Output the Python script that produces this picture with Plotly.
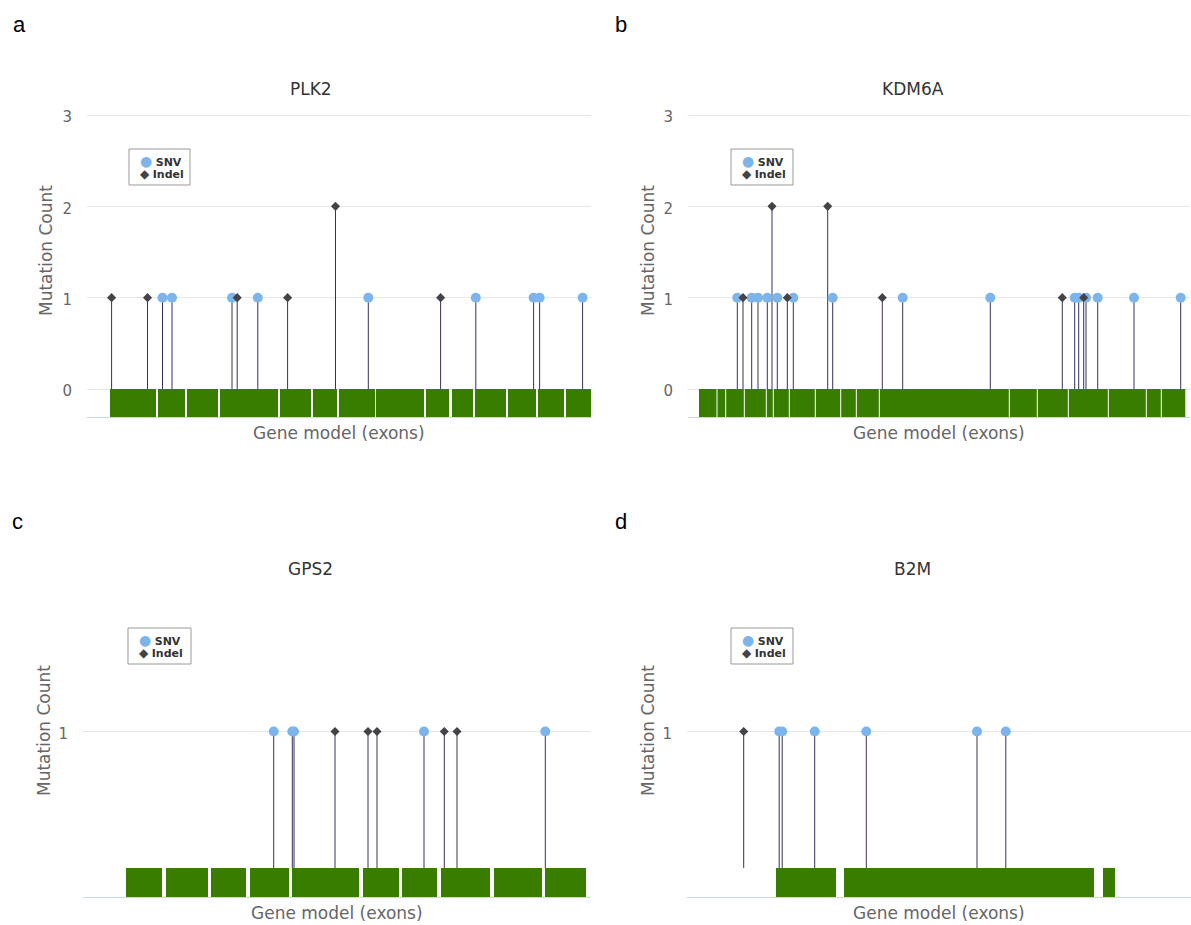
import plotly.graph_objects as go

# Gene-model coordinates: 0 is the left end of each gene's axis.
genes = ["PLK2", "KDM6A", "GPS2", "B2M"]
panel_letters = ["a", "b", "c", "d"]

plk2_exon_start = [23, 71, 100, 133, 193, 226, 252, 289, 339, 365, 388, 421, 451, 479]
plk2_exon_end = [69, 98, 131, 191, 224, 250, 288, 337, 362, 386, 419, 449, 477, 504]
plk2_snv_pos = [75.5, 85, 145, 170.8, 281.3, 388.8, 446.6, 452.6, 495.6]
plk2_snv_count = [1, 1, 1, 1, 1, 1, 1, 1, 1]
plk2_indel_pos = [24.6, 60.5, 150.2, 200.6, 248.5, 353.6]
plk2_indel_count = [1, 1, 1, 1, 2, 1]

kdm6a_exon_start = [11, 29.5, 38.2, 56.8, 78.8, 85.8, 101.8, 127.8, 153.2, 168.8,
                    191.8, 321.8, 349.8, 380.8, 420.8, 458.8, 473.8]
kdm6a_exon_end = [28.5, 37.2, 55.8, 77.8, 84.8, 100.8, 126.8, 152.2, 167.8, 190.8,
                  320.8, 348.8, 379.8, 419.8, 457.8, 472.8, 497.3]
kdm6a_snv_pos = [49.3, 63.7, 70, 79.3, 89.3, 105.3, 144.7, 214.7, 302.3, 386.7,
                 390.7, 398, 409.7, 446, 492.7]
kdm6a_snv_count = [1, 1, 1, 1, 1, 1, 1, 1, 1, 1, 1, 1, 1, 1, 1]
kdm6a_indel_pos = [55, 84, 99.3, 139.7, 194.3, 374.3, 395.7]
kdm6a_indel_count = [1, 2, 1, 2, 1, 1, 1]

gps2_exon_start = [43, 83, 128, 167, 209, 280, 319, 358, 411, 462]
gps2_exon_end = [79, 125, 163, 206, 276, 316, 354, 407, 459, 503]
gps2_snv_pos = [190.7, 209.3, 211, 341, 462.3]
gps2_snv_count = [1, 1, 1, 1, 1]
gps2_indel_pos = [252, 285, 294, 361.3, 374]
gps2_indel_count = [1, 1, 1, 1, 1]

b2m_exon_start = [89, 157, 416]
b2m_exon_end = [149, 407, 428]
b2m_snv_pos = [92.2, 95.2, 127.7, 179.3, 290, 318.8]
b2m_snv_count = [1, 1, 1, 1, 1, 1]
b2m_indel_pos = [56.7]
b2m_indel_count = [1]

top_y_ticks = [0, 1, 2, 3]
bottom_y_ticks = [1]

W, H = 1191, 925
SNV_COLOR = "#7cb5ec"
INDEL_COLOR = "#434348"
STEM_COLOR = "#34325a"
EXON_COLOR = "#387c00"
FONT = "DejaVu Sans"


def px_x(v):
    return v / W


def px_y(v):
    return 1 - v / H


panels = [
    dict(gene="PLK2", exon_start=plk2_exon_start, exon_end=plk2_exon_end,
         snv_pos=plk2_snv_pos, snv_count=plk2_snv_count,
         indel_pos=plk2_indel_pos, indel_count=plk2_indel_count,
         xpx=(87, 591), ypx=(112, 417), xmax=504, yrange=(-0.3066, 3.033), ticks=top_y_ticks,
         title_x=311, title_y=89, ytitle_x=46, ytitle_y=251, xtitle_y=433,
         legend=(129, 149, 190, 185), letter_xy=(11, 25)),
    dict(gene="KDM6A", exon_start=kdm6a_exon_start, exon_end=kdm6a_exon_end,
         snv_pos=kdm6a_snv_pos, snv_count=kdm6a_snv_count,
         indel_pos=kdm6a_indel_pos, indel_count=kdm6a_indel_count,
         xpx=(688, 1190), ypx=(112, 417), xmax=502, yrange=(-0.3066, 3.033), ticks=top_y_ticks,
         title_x=913, title_y=89, ytitle_x=648, ytitle_y=251, xtitle_y=433,
         legend=(731, 149, 793, 185), letter_xy=(613, 25)),
    dict(gene="GPS2", exon_start=gps2_exon_start, exon_end=gps2_exon_end,
         snv_pos=gps2_snv_pos, snv_count=gps2_snv_count,
         indel_pos=gps2_indel_pos, indel_count=gps2_indel_count,
         xpx=(83, 590), ypx=(595, 897), xmax=507, yrange=(-0.213, 2.0), ticks=bottom_y_ticks,
         title_x=310, title_y=569, ytitle_x=44, ytitle_y=731, xtitle_y=913,
         legend=(128, 628, 191, 664), letter_xy=(10, 521)),
    dict(gene="B2M", exon_start=b2m_exon_start, exon_end=b2m_exon_end,
         snv_pos=b2m_snv_pos, snv_count=b2m_snv_count,
         indel_pos=b2m_indel_pos, indel_count=b2m_indel_count,
         xpx=(687, 1191), ypx=(595, 897), xmax=504, yrange=(-0.213, 2.0), ticks=bottom_y_ticks,
         title_x=913, title_y=569, ytitle_x=648, ytitle_y=731, xtitle_y=913,
         legend=(731, 628, 793, 664), letter_xy=(613, 521)),
]

fig = go.Figure()
annotations = []
shapes = []
layout_axes = {}

for i, p in enumerate(panels):
    n = i + 1
    xa = "x" if n == 1 else f"x{n}"
    ya = "y" if n == 1 else f"y{n}"
    ymin = p["yrange"][0]

    # exon blocks of the gene model, sitting below zero
    centers = [(s + e) / 2 for s, e in zip(p["exon_start"], p["exon_end"])]
    widths = [e - s for s, e in zip(p["exon_start"], p["exon_end"])]
    fig.add_trace(go.Bar(
        x=centers, width=widths, y=[-ymin] * len(centers), base=ymin,
        marker=dict(color=EXON_COLOR, line=dict(width=0)),
        xaxis=xa, yaxis=ya, hoverinfo="skip", showlegend=False))

    # lollipop stems from zero up to each mutation count
    sx, sy = [], []
    for pos, cnt in list(zip(p["snv_pos"], p["snv_count"])) + list(zip(p["indel_pos"], p["indel_count"])):
        sx += [pos, pos, None]
        sy += [0, cnt, None]
    fig.add_trace(go.Scatter(
        x=sx, y=sy, mode="lines", line=dict(color=STEM_COLOR, width=1),
        xaxis=xa, yaxis=ya, hoverinfo="skip", showlegend=False))

    fig.add_trace(go.Scatter(
        x=p["snv_pos"], y=p["snv_count"], mode="markers", name="SNV",
        marker=dict(color=SNV_COLOR, size=10, symbol="circle"),
        xaxis=xa, yaxis=ya, showlegend=False))
    fig.add_trace(go.Scatter(
        x=p["indel_pos"], y=p["indel_count"], mode="markers", name="Indel",
        marker=dict(color=INDEL_COLOR, size=7, symbol="diamond"),
        xaxis=xa, yaxis=ya, showlegend=False))

    x0, x1 = p["xpx"]
    yt, yb = p["ypx"]
    layout_axes["xaxis" if n == 1 else f"xaxis{n}"] = dict(
        domain=[px_x(x0), px_x(x1)], range=[0, p["xmax"]], anchor=ya,
        showgrid=False, zeroline=False, showticklabels=False, ticks="",
        showline=True, linecolor="#ccd6eb", linewidth=1, fixedrange=True,
        automargin=False)
    layout_axes["yaxis" if n == 1 else f"yaxis{n}"] = dict(
        domain=[px_y(yb), px_y(yt)], range=list(p["yrange"]), anchor=xa,
        tickmode="array", tickvals=p["ticks"], showgrid=True, gridcolor="#e6e6e6",
        gridwidth=1, zeroline=False, showline=False, ticks="",
        tickfont=dict(family=FONT, size=15, color="#666666"),
        ticklabelstandoff=14, ticklabelshift=2, fixedrange=True, automargin=False)

    # text: gene title, axis titles, panel letter
    annotations.append(dict(text=p["gene"], x=px_x(p["title_x"]), y=px_y(p["title_y"]),
                            xref="paper", yref="paper", showarrow=False,
                            xanchor="center", yanchor="middle",
                            font=dict(family=FONT, size=17, color="#333333")))
    annotations.append(dict(text="Mutation Count", x=px_x(p["ytitle_x"]), y=px_y(p["ytitle_y"]),
                            xref="paper", yref="paper", showarrow=False, textangle=-90,
                            xanchor="center", yanchor="middle",
                            font=dict(family=FONT, size=17, color="#666666")))
    annotations.append(dict(text="Gene model (exons)", x=px_x((x0 + x1) / 2), y=px_y(p["xtitle_y"]),
                            xref="paper", yref="paper", showarrow=False,
                            xanchor="center", yanchor="middle",
                            font=dict(family=FONT, size=17, color="#666666")))
    lx, ly = p["letter_xy"]
    annotations.append(dict(text=panel_letters[i], x=px_x(lx), y=px_y(ly),
                            xref="paper", yref="paper", showarrow=False,
                            xanchor="left", yanchor="middle",
                            font=dict(family="Liberation Sans", size=22, color="#000000")))

    # legend box with the two mutation classes
    bx0, by0, bx1, by1 = p["legend"]
    shapes.append(dict(type="rect", xref="paper", yref="paper",
                       x0=px_x(bx0), x1=px_x(bx1), y0=px_y(by1), y1=px_y(by0),
                       line=dict(color="#999999", width=1), fillcolor="white"))
    annotations.append(dict(text=f"<span style='color:{SNV_COLOR};font-size:14px'>●</span> <b>SNV</b>",
                            x=px_x(bx0 + 9), y=px_y(by0 + 12), xref="paper", yref="paper",
                            showarrow=False, xanchor="left", yanchor="middle",
                            font=dict(family=FONT, size=11, color="#333333")))
    annotations.append(dict(text=f"<span style='color:{INDEL_COLOR};font-size:12px'>◆</span> <b>Indel</b>",
                            x=px_x(bx0 + 9), y=px_y(by0 + 25), xref="paper", yref="paper",
                            showarrow=False, xanchor="left", yanchor="middle",
                            font=dict(family=FONT, size=11, color="#333333")))

fig.update_layout(
    width=W, height=H, margin=dict(l=0, r=0, t=0, b=0, pad=0, autoexpand=False),
    paper_bgcolor="white", plot_bgcolor="white",
    barmode="overlay", showlegend=False,
    annotations=annotations, shapes=shapes,
    font=dict(family=FONT),
    **layout_axes,
)

fig.write_html("out.html")
